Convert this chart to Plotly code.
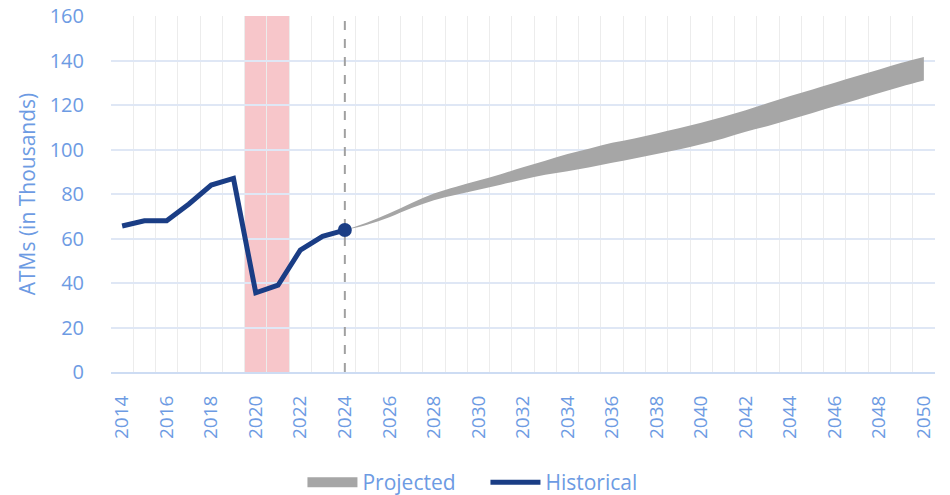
import plotly.graph_objects as go

# ---- data ----
hist_years = [2014, 2015, 2016, 2017, 2018, 2019, 2020, 2021, 2022, 2023, 2024]
hist_values = [65.6, 68.0, 68.0, 75.5, 84.0, 87.0, 35.6, 39.0, 54.8, 61.0, 63.8]

proj_years = list(range(2024, 2051))
proj_upper = [63.8, 67.2, 71.3, 76.0, 80.2, 83.3, 86.1, 88.9, 92.0, 95.0, 98.0,
              100.5, 103.0, 105.0, 107.2, 109.5, 112.0, 114.7, 117.6, 120.9, 124.1,
              127.0, 130.0, 133.0, 136.0, 139.0, 141.6]
proj_lower = [63.8, 66.2, 69.6, 73.7, 77.2, 79.7, 81.9, 84.2, 86.5, 88.6, 90.2,
              92.0, 94.0, 96.0, 98.0, 100.0, 102.4, 105.0, 108.0, 110.6, 113.5,
              116.4, 119.4, 122.4, 125.4, 128.3, 131.0]

shade_years = [2020, 2021]
tick_years = list(range(2014, 2051, 2))
y_ticks = list(range(0, 161, 20))

# ---- styles ----
TXT = "#6d9be3"
FONT = "Open Sans"
GRAY = "#a6a6a6"
BLUE = "#1a3d85"

fig = go.Figure()

fig.add_trace(go.Scatter(
    x=proj_years, y=proj_lower, mode="lines", line=dict(width=0, shape="spline", color=GRAY),
    showlegend=False, hoverinfo="skip"))
fig.add_trace(go.Scatter(
    x=proj_years, y=proj_upper, mode="lines", line=dict(width=0, shape="spline", color=GRAY),
    fill="tonexty", fillcolor=GRAY, name="Projected", showlegend=False))
# legend swatch for projected band
fig.add_trace(go.Scatter(
    x=[None], y=[None], mode="lines", line=dict(width=15, color=GRAY),
    name="Projected", legendrank=1))
fig.add_trace(go.Scatter(
    x=hist_years, y=hist_values, mode="lines", line=dict(width=5, color=BLUE),
    name="Historical", legendrank=2))
fig.add_trace(go.Scatter(
    x=[hist_years[-1]], y=[hist_values[-1]], mode="markers",
    marker=dict(size=14, color=BLUE), showlegend=False))

# recession shading
fig.add_shape(type="rect", xref="x", yref="y",
              x0=min(shade_years) - 0.5, x1=max(shade_years) + 0.5,
              y0=y_ticks[0], y1=y_ticks[-1],
              fillcolor="#f7c6ca", line=dict(width=0), layer="below")
# dashed divider
fig.add_shape(type="line", xref="x", yref="y",
              x0=hist_years[-1], x1=hist_years[-1], y0=y_ticks[0], y1=y_ticks[-1],
              line=dict(color="#a0a0a0", width=2, dash="dash"), layer="between")

fig.update_layout(
    width=950, height=495,
    margin=dict(l=111, r=15, t=16, b=123),
    paper_bgcolor="white", plot_bgcolor="white",
    font=dict(family=FONT, color=TXT, size=17),
    legend=dict(orientation="h", xref="container", yref="container",
                x=0.511, xanchor="center", y=0.025, yanchor="middle",
                font=dict(size=21, color=TXT), itemwidth=50, tracegroupgap=0,
                entrywidth=118, entrywidthmode="pixels",
                traceorder="normal"),
    showlegend=True,
)

fig.update_xaxes(
    automargin=False,
    range=[2013.5, 2050.5], tickmode="array", tickvals=tick_years,
    ticktext=[str(y) for y in tick_years], tickangle=-90,
    showgrid=False, zeroline=False,
    ticks="outside", ticklen=14, tickcolor="rgba(0,0,0,0)",
    showline=True, linecolor="#cddcf3", linewidth=2,
    tickfont=dict(size=19, color=TXT),
    minor=dict(tick0=2013.5, dtick=1, showgrid=True, gridcolor="#ececec", gridwidth=1.2),
)
fig.update_yaxes(
    automargin=False,
    range=[0, 160], tickmode="array", tickvals=y_ticks,
    showgrid=True, gridcolor="#dfe7f5", gridwidth=1.5, zeroline=False,
    ticks="outside", ticklen=22, tickcolor="rgba(0,0,0,0)",
    tickfont=dict(size=20, color=TXT),
    title=dict(text="ATMs (in Thousands)", font=dict(size=21, color=TXT), standoff=8),
)

fig.write_html("out.html")
